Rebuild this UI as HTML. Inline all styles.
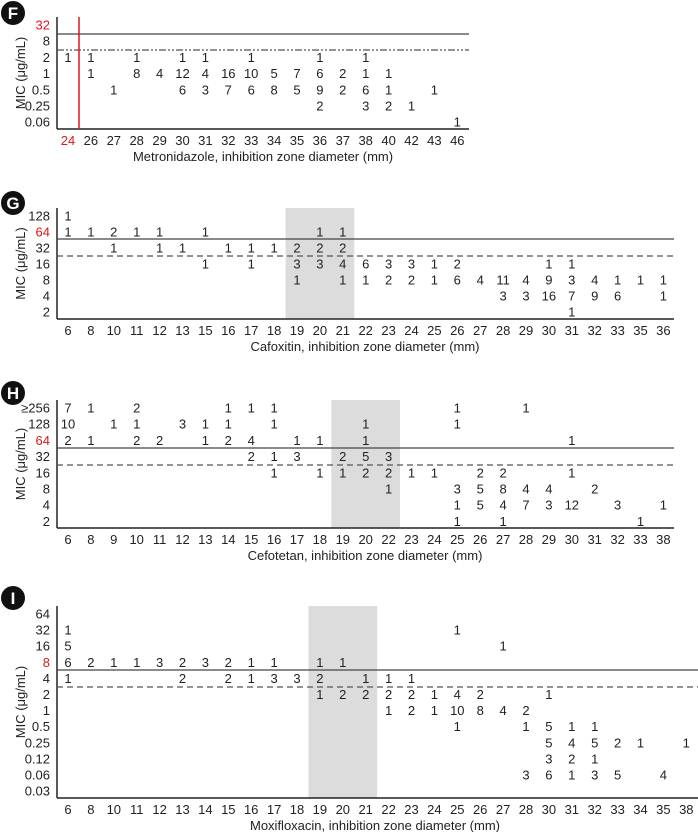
<!DOCTYPE html>
<html><head><meta charset="utf-8"><style>
html,body{margin:0;padding:0;background:#fff;}
svg{display:block;font-family:"Liberation Sans",Arial,sans-serif;}
</style></head><body>
<svg id="chart" width="698" height="832" viewBox="0 0 698 832" xmlns="http://www.w3.org/2000/svg"></svg>
<script>
// ---- Panel F data (Metronidazole)
const fCols = ['24','26','27','28','29','30','31','32','33','34','35','36','37','38','40','42','43','46'];
const fRows = ['32','8','2','1','0.5','0.25','0.06'];
const fCounts = [
 ['24','2',1],['26','2',1],['28','2',1],['30','2',1],['31','2',1],['33','2',1],['36','2',1],['38','2',1],
 ['26','1',1],['28','1',8],['29','1',4],['30','1',12],['31','1',4],['32','1',16],['33','1',10],['34','1',5],['35','1',7],['36','1',6],['37','1',2],['38','1',1],['40','1',1],
 ['27','0.5',1],['30','0.5',6],['31','0.5',3],['32','0.5',7],['33','0.5',6],['34','0.5',8],['35','0.5',5],['36','0.5',9],['37','0.5',2],['38','0.5',6],['40','0.5',1],['43','0.5',1],
 ['36','0.25',2],['38','0.25',3],['40','0.25',2],['42','0.25',1],
 ['46','0.06',1]
];
// ---- Panel G data (Cefoxitin)
const gCols = ['6','8','10','11','12','13','15','16','17','18','19','20','21','22','23','24','25','26','27','28','29','30','31','32','33','35','36'];
const gRows = ['128','64','32','16','8','4','2'];
const gCounts = [
 ['6','128',1],
 ['6','64',1],['8','64',1],['10','64',2],['11','64',1],['12','64',1],['15','64',1],['20','64',1],['21','64',1],
 ['10','32',1],['12','32',1],['13','32',1],['16','32',1],['17','32',1],['18','32',1],['19','32',2],['20','32',2],['21','32',2],
 ['15','16',1],['17','16',1],['19','16',3],['20','16',3],['21','16',4],['22','16',6],['23','16',3],['24','16',3],['25','16',1],['26','16',2],['30','16',1],['31','16',1],
 ['19','8',1],['21','8',1],['22','8',1],['23','8',2],['24','8',2],['25','8',1],['26','8',6],['27','8',4],['28','8',11],['29','8',4],['30','8',9],['31','8',3],['32','8',4],['33','8',1],['35','8',1],['36','8',1],
 ['28','4',3],['29','4',3],['30','4',16],['31','4',7],['32','4',9],['33','4',6],['36','4',1],
 ['31','2',1]
];
// ---- Panel H data (Cefotetan)
const hCols = ['6','8','9','10','11','12','13','14','15','16','17','18','19','20','22','23','24','25','26','27','28','29','30','31','32','33','38'];
const hRows = ['≥256','128','64','32','16','8','4','2'];
const hCounts = [
 ['6','≥256',7],['8','≥256',1],['10','≥256',2],['14','≥256',1],['15','≥256',1],['16','≥256',1],['25','≥256',1],['28','≥256',1],
 ['6','128',10],['9','128',1],['10','128',1],['12','128',3],['13','128',1],['14','128',1],['16','128',1],['20','128',1],['25','128',1],
 ['6','64',2],['8','64',1],['10','64',2],['11','64',2],['13','64',1],['14','64',2],['15','64',4],['17','64',1],['18','64',1],['20','64',1],['30','64',1],
 ['15','32',2],['16','32',1],['17','32',3],['19','32',2],['20','32',5],['22','32',3],
 ['16','16',1],['18','16',1],['19','16',1],['20','16',2],['22','16',2],['23','16',1],['24','16',1],['26','16',2],['27','16',2],['30','16',1],
 ['22','8',1],['25','8',3],['26','8',5],['27','8',8],['28','8',4],['29','8',4],['31','8',2],
 ['25','4',1],['26','4',5],['27','4',4],['28','4',7],['29','4',3],['30','4',12],['32','4',3],['38','4',1],
 ['25','2',1],['27','2',1],['33','2',1]
];
// ---- Panel I data (Moxifloxacin)
const iCols = ['6','8','10','11','12','13','14','15','16','17','18','19','20','21','22','23','24','25','26','27','28','30','31','32','33','34','35','38'];
const iRows = ['64','32','16','8','4','2','1','0.5','0.25','0.12','0.06','0.03'];
const iCounts = [
 ['6','32',1],['25','32',1],
 ['6','16',5],['27','16',1],
 ['6','8',6],['8','8',2],['10','8',1],['11','8',1],['12','8',3],['13','8',2],['14','8',3],['15','8',2],['16','8',1],['17','8',1],['19','8',1],['20','8',1],
 ['6','4',1],['13','4',2],['15','4',2],['16','4',1],['17','4',3],['18','4',3],['19','4',2],['21','4',1],['22','4',1],['23','4',1],
 ['19','2',1],['20','2',2],['21','2',2],['22','2',2],['23','2',2],['24','2',1],['25','2',4],['26','2',2],['30','2',1],
 ['22','1',1],['23','1',2],['24','1',1],['25','1',10],['26','1',8],['27','1',4],['28','1',2],
 ['25','0.5',1],['28','0.5',1],['30','0.5',5],['31','0.5',1],['32','0.5',1],
 ['30','0.25',5],['31','0.25',4],['32','0.25',5],['33','0.25',2],['34','0.25',1],['38','0.25',1],
 ['30','0.12',3],['31','0.12',2],['32','0.12',1],
 ['28','0.06',3],['30','0.06',6],['31','0.06',1],['32','0.06',3],['33','0.06',5],['35','0.06',4]
];

const NS='http://www.w3.org/2000/svg';
const svg=document.getElementById('chart');
function mk(tag,attrs,parent,text){
  const e=document.createElementNS(NS,tag);
  for(const k in attrs)e.setAttribute(k,attrs[k]);
  if(text!==undefined)e.textContent=text;
  (parent||svg).appendChild(e);return e;
}
function panel(cfg){
  const g=mk('g',{});
  
  
  const xOf=c=>cfg.x0+cfg.cols.indexOf(c)*cfg.dx;
  const yOf=r=>cfg.y0+cfg.rows.indexOf(r)*cfg.dy;
  if(cfg.band){
    const b=mk('rect',{x:xOf(cfg.band[0])-cfg.dx/2,y:cfg.top,width:(cfg.cols.indexOf(cfg.band[1])-cfg.cols.indexOf(cfg.band[0])+1)*cfg.dx,height:cfg.bottom-cfg.top,fill:'#dcdcdc'},g);
    
    
  }
  // letter badge
  const c=mk('circle',{cx:13,cy:cfg.badgeY,r:12,fill:'#111'},g);
  
  
  const lt=mk('text',{x:13,y:cfg.badgeY+6,'text-anchor':'middle','font-size':17,'font-weight':'bold',fill:'#fff'},g,cfg.letter);
  
  
  // axes
  const ya=mk('line',{x1:57,y1:cfg.top,x2:57,y2:cfg.bottom,stroke:'#222','stroke-width':1.5},g);
  
  
  const xa=mk('line',{x1:57,y1:cfg.bottom,x2:cfg.right,y2:cfg.bottom,stroke:'#222','stroke-width':1.5},g);
  
  
  // breakpoints
  const s=mk('line',{x1:57,y1:cfg.solid,x2:cfg.right,y2:cfg.solid,stroke:'#444','stroke-width':1.3},g);
  
  
  const d=mk('line',{x1:57,y1:cfg.dash,x2:cfg.right,y2:cfg.dash,stroke:'#555','stroke-width':1.3,'stroke-dasharray':cfg.dashPat},g);
  
  
  if(cfg.redLine){
    const r=mk('line',{x1:cfg.redLine,y1:cfg.top,x2:cfg.redLine,y2:cfg.bottom,stroke:'#e0161c','stroke-width':1.5},g);
    
    
  }
  // y ticks
  cfg.rows.forEach(r=>{
    const t=mk('text',{x:50,y:yOf(r)+4.5,'text-anchor':'end','font-size':13,fill:r===cfg.redY?'#e0161c':'#222'},g,r);
    
    
  });
  cfg.cols.forEach(c=>{
    const t=mk('text',{x:xOf(c),y:cfg.bottom+16,'text-anchor':'middle','font-size':13,fill:c===cfg.redX?'#e0161c':'#222'},g,c);
    
    
  });
  cfg.counts.forEach(([c,r,n])=>{
    const t=mk('text',{x:xOf(c),y:yOf(r)+4.5,'text-anchor':'middle','font-size':13,fill:'#222'},g,String(n));
    
    
  });
  const xt=mk('text',{x:cfg.titleX,y:cfg.bottom+32,'text-anchor':'middle','font-size':13,fill:'#222'},g,cfg.title);
  
  
  const cy=(cfg.top+cfg.bottom)/2;
  const yt=mk('text',{x:0,y:0,'text-anchor':'middle','font-size':13,fill:'#222',transform:`translate(25,${cy}) rotate(-90)`},g,'MIC (μg/mL)');
  
  
}
panel({letter:'F',badgeY:13,cols:fCols,rows:fRows,counts:fCounts,x0:68,dx:22.9,y0:25,dy:16.2,top:17,bottom:129,right:469,solid:34,dash:50,dashPat:'7 2 2 2 2 2',redLine:79,redX:'24',redY:'32',title:'Metronidazole, inhibition zone diameter (mm)',titleX:263});
panel({letter:'G',badgeY:203,cols:gCols,rows:gRows,counts:gCounts,x0:68,dx:22.9,y0:216,dy:16,top:208,bottom:319,right:674,solid:239,dash:256,dashPat:'6 4',redY:'64',band:['19','21'],title:'Cafoxitin, inhibition zone diameter (mm)',titleX:365});
panel({letter:'H',badgeY:393,cols:hCols,rows:hRows,counts:hCounts,x0:68,dx:22.9,y0:408,dy:16.2,top:400,bottom:528,right:674,solid:448,dash:465,dashPat:'6 4',redY:'64',band:['19','22'],title:'Cefotetan, inhibition zone diameter (mm)',titleX:365});
panel({letter:'I',badgeY:598,cols:iCols,rows:iRows,counts:iCounts,x0:68,dx:22.9,y0:614,dy:16.1,top:606,bottom:798,right:698,solid:670,dash:687,dashPat:'6 4',redY:'8',band:['19','21'],title:'Moxifloxacin, inhibition zone diameter (mm)',titleX:375});
</script>
</body></html>
